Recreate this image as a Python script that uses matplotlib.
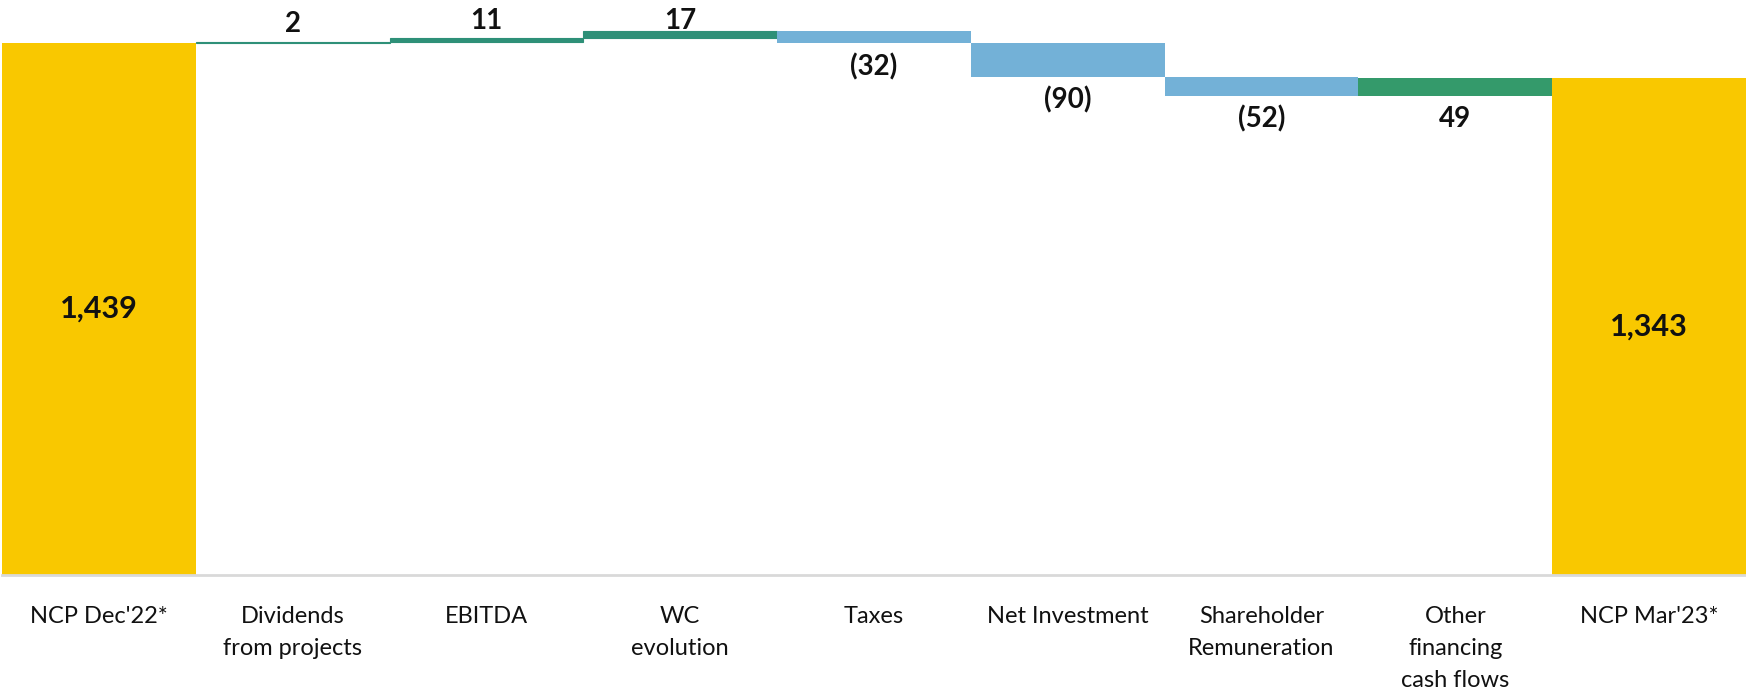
import matplotlib
matplotlib.use("Agg")
import matplotlib.pyplot as plt

categories = ["NCP Dec'22*", "Dividends\nfrom projects", "EBITDA", "WC\nevolution",
              "Taxes", "Net Investment", "Shareholder\nRemuneration",
              "Other\nfinancing\ncash flows", "NCP Mar'23*"]
values = [1439, 2, 11, 17, -32, -90, -52, 49, 1343]
labels = ["1,439", "2", "11", "17", "(32)", "(90)", "(52)", "49", "1,343"]
kinds = ["total", "delta", "delta", "delta", "delta", "delta", "delta", "delta", "total"]
label_pos = ["center", "above", "above", "above", "below", "below", "below", "below", "center"]
label_gap_pt = [0, 7, 6, 1.5, 7, 7, 7, 7, 0]

YELLOW = "#F9C800"
GREEN_THIN = "#2E9078"
GREEN = "#349A6B"
BLUE = "#73B1D7"

W, H = 1746, 691
fig = plt.figure(figsize=(W / 100, H / 100), dpi=100)
base_px = 575
ax = fig.add_axes([2 / W, (H - base_px) / H, 1744 / W, base_px / H])

running = 0
bottoms, heights, colors = [], [], []
for i, (v, k) in enumerate(zip(values, kinds)):
    if k == "total":
        b, h = 0, v
        running = v
        c = YELLOW
    else:
        if v >= 0:
            b, h = running, v
            c = GREEN_THIN if abs(v) < 20 else GREEN
        else:
            b, h = running + v, -v
            c = BLUE
        running += v
    bottoms.append(b)
    heights.append(h)
    colors.append(c)

x = list(range(len(categories)))
for xi, b, h, c in zip(x, bottoms, heights, colors):
    lw = 0.8 if h < 20 else 0
    ax.bar(xi, h, bottom=b, width=1.0, color=c, edgecolor=c, linewidth=lw)

for xi, b, h, lab, pos, gap in zip(x, bottoms, heights, labels, label_pos, label_gap_pt):
    if pos == "center":
        ax.text(xi, b + h / 2, lab, ha="center", va="center", fontsize=22,
                fontweight="bold", family="Lato", color="#111111")
    elif pos == "above":
        ax.annotate(lab, (xi, b + h), xytext=(0, gap), textcoords="offset points",
                    ha="center", va="baseline", fontsize=20, fontweight="bold",
                    family="Lato", color="#111111")
    else:
        ax.annotate(lab, (xi, b), xytext=(0, -gap), textcoords="offset points",
                    ha="center", va="top", fontsize=20, fontweight="bold",
                    family="Lato", color="#111111")

ax.set_xlim(-0.5, len(categories) - 0.5)
ax.set_ylim(0, base_px / 0.37)
ax.set_xticks(x)
ax.set_xticklabels(categories, fontsize=17, family="Lato", color="#111111",
                   linespacing=1.67)
ax.tick_params(axis="x", length=0, pad=22)
ax.set_yticks([])
for s in ["top", "right", "left"]:
    ax.spines[s].set_visible(False)
ax.spines["bottom"].set_color("#D9D9D9")
ax.spines["bottom"].set_linewidth(2)

fig.savefig("out.png", dpi=100)
